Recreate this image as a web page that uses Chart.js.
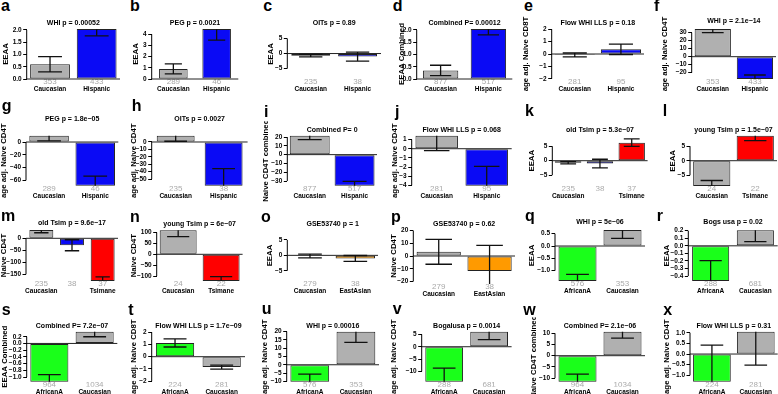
<!DOCTYPE html>
<html>
<head>
<meta charset="utf-8">
<script src="https://cdn.jsdelivr.net/npm/chart.js@4.4.1/dist/chart.umd.min.js"></script>
<style>
  html, body { margin: 0; padding: 0; background: #fff; }
  body { width: 778px; height: 394px; position: relative; overflow: hidden; font-family: "Liberation Sans", Arial, sans-serif; }
  canvas { position: absolute; }
  .tag { position: absolute; font-weight: bold; font-size: 16px; line-height: 16px; color: #000; }
</style>
</head>
<body>
<script>
// ---- data, one entry per panel a..x ----
const panelLetters = "abcdefghijklmnopqrstuvwx".split("");

const panelTitles = [
  "WHI p = 0.00052", "PEG p = 0.0021", "OITs p = 0.89", "Combined P= 0.00012", "Flow WHI LLS p = 0.18", "WHI p = 2.1e\u221214",
  "PEG p = 1.8e\u221205", "OITs p = 0.0027", "Combined P= 0", "Flow WHI LLS p = 0.068", "old Tsim p = 5.3e\u221207", "young Tsim p = 1.5e\u221207",
  "old Tsim p = 9.6e\u221217", "young Tsim p = 6e\u221207", "GSE53740 p = 1", "GSE53740 p = 0.62", "WHI p = 5e\u221206", "Bogs usa p = 0.02",
  "Combined P= 7.2e\u221207", "Flow WHI LLS p = 1.7e\u221209", "WHI p = 0.00016", "Bogalusa p = 0.0014", "Combined P= 2.1e\u221206", "Flow WHI LLS p = 0.31",
];

const panelYLabels = [
  "EEAA", "EEAA", "EEAA", "EEAA Combined", "age adj. Naive CD8T", "age adj. Naive CD4T",
  "age adj. Naive CD4T", "age adj. Naive CD4T", "Naive CD4T combined", "age adj. Naive CD4T", "EEAA", "EEAA",
  "Naive CD4T", "Naive CD4T", "EEAA", "Naive CD4T", "EEAA", "EEAA",
  "EEAA Combined", "age adj. Naive CD8T", "age adj. Naive CD4T", "age adj. Naive CD4T", "Naive CD4T combined", "age adj. Naive CD4T",
];

const CH = ["Caucasian", "Hispanic"];
const CT = ["Caucasian", "Tsimane"];
const CHT = ["Caucasian", "Hispanic", "Tsimane"];
const CE = ["Caucasian", "EastAsian"];
const AC = ["AfricanA", "Caucasian"];
const panelCategories = [CH, CH, CH, CH, CH, CH, CH, CH, CH, CH, CHT, CT, CHT, CT, CE, CE, AC, AC, AC, AC, AC, AC, AC, AC];

const panelCounts = [
  [353, 433], [289, 46], [235, 38], [877, 517], [281, 95], [353, 433],
  [289, 46], [235, 38], [877, 517], [281, 95], [235, 38, 37], [24, 22],
  [235, 38, 37], [24, 22], [279, 38], [279, 38], [576, 353], [288, 681],
  [964, 1034], [224, 281], [576, 353], [288, 681], [964, 1034], [224, 281],
];

const panelMeans = [
  [0.6, 2.04], [0.9, 4.47], [-0.7, -1.0], [0.35, 2.04], [-0.08, 0.38], [34.6, -27.9],
  [9.9, -68.4], [8.5, -59], [21.5, -35.3], [1.42, -4.04], [-0.7, -1.0, 6.2], [-8.7, 8.6],
  [34.6, -29, -178], [110.6, -123], [-0.2, -1.0], [3.3, -11.7], [-1.42, 0.65], [-0.465, 0.205],
  [-1.14, 0.35], [1.12, -0.85], [-10.2, 19.9], [-14.2, 6.1], [-11.6, 10.7], [-1.3, 1.05],
];

const panelSE = [
  [0.31, 0.28], [0.45, 1.0], [0.4, 1.5], [0.21, 0.24], [0.16, 0.42], [4.6, 5],
  [8, 15], [7.5, 23], [4.5, 5], [1.64, 2.1], [0.4, 1.5, 1.3], [1.9, 1.7],
  [11.5, 23, 17], [29, 20], [0.6, 0.95], [9.75, 20], [0.27, 0.34], [0.27, 0.15],
  [0.21, 0.15], [0.33, 0.17], [4.6, 6.4], [5.5, 3.2], [3.4, 2.9], [1.72, 1.57],
];

const panelYMin = [0, 0, -8.4, 0, -2.02, -27.9, -68.4, -59, -35.3, -4.04, -8.6, -8.7,
  -178, -123, -8.3, -21.9, -1.42, -0.465, -1.14, -2.04, -10.2, -14.2, -11.6, -1.3];
const panelYMax = [2.04, 4.47, 8.1, 2.04, 2.02, 34.6, 9.9, 8.5, 21.5, 1.42, 8.6, 8.6,
  34.6, 110.6, 8.2, 21.9, 0.65, 0.205, 0.35, 2.04, 19.9, 6.1, 10.7, 1.05];

const panelTicks = [
  [0, 0.5, 1, 1.5, 2], [0, 1, 2, 3, 4], [-5, 0, 5], [0, 0.5, 1, 1.5, 2], [-2, -1, 0, 1, 2], [-20, -10, 0, 10, 20, 30],
  [-60, -40, -20, 0], [-50, -40, -30, -20, -10, 0], [-30, -20, -10, 0, 10, 20], [-4, -3, -2, -1, 0, 1], [-5, 0, 5], [-5, 0, 5],
  [-150, -100, -50, 0], [-100, -50, 0, 50, 100], [-5, 0, 5], [-20, -10, 0, 10, 20], [-1, -0.5, 0, 0.5], [-0.4, -0.3, -0.2, -0.1, 0, 0.1, 0.2],
  [-1, -0.8, -0.6, -0.4, -0.2, 0, 0.2], [-2, -1, 0, 1, 2], [-10, -5, 0, 5, 10, 15, 20], [-10, -5, 0, 5], [-10, -5, 0, 5, 10], [-1, -0.5, 0, 0.5, 1],
];

// ---- layout (page pixels) ----
// plot region [left, right, top, bottom]
const plotBoxes = [
  [26.7, 120, 29, 79], [151.7, 238.3, 29, 79], [287.3, 381, 29, 79], [416.7, 512.3, 29, 79], [551.7, 644, 29, 79], [691.7, 776, 29, 79],
  [26, 118.3, 135.7, 185.7], [151.7, 247.6, 135.7, 185.7], [287.3, 377, 135.7, 185.7], [411.7, 511.7, 135.7, 185.7], [552.3, 647.6, 135.7, 185.7], [690, 777, 135.7, 186],
  [26, 118, 230, 281], [156.7, 242.6, 230.3, 281], [287.3, 378, 230, 281], [413.3, 515, 228, 284], [555, 645, 230, 281], [688.3, 777.7, 230.3, 281],
  [26.7, 117.3, 331.7, 381.7], [151.7, 245, 331.7, 381.7], [286.7, 379, 331.7, 381.7], [421.7, 511.6, 331.7, 381.7], [555, 645, 331.7, 381.7], [690, 777.7, 331.7, 381.7],
];
const titleY = [22.7, 22.7, 22.7, 22.7, 22.7, 21.5, 118.7, 118.7, 129.7, 129.7, 130.3, 130.3,
  222.7, 224.3, 224.3, 224.3, 222, 222, 325.7, 325.7, 325.7, 325.7, 325.7, 325.7];
const yLabelX = [6, 135.5, 270.5, 401.7, 526, 664.7, 4, 133.7, 266.3, 395.3, 532, 672.7,
  3.7, 133.7, 270.3, 393.7, 532, 667, 4.7, 133.7, 265.3, 393.7, 533.7, 667];
const letterPos = [
  [1, 11.7], [130, 11.7], [263.3, 11.7], [392.7, 11.7], [524, 11.7], [654, 11.7],
  [1.7, 111.3], [131.7, 111.3], [264, 117.3], [395, 117.3], [525, 116.3], [662.7, 116.3],
  [1, 221], [130, 222.7], [261, 222], [391, 222], [525, 221], [656.7, 221],
  [1.7, 315.7], [128.3, 315.7], [261.7, 314.7], [392.7, 314.7], [523.3, 315.7], [663.3, 315.7],
];
const barPct = [0.853, 0.66, 0.83, 0.74, 0.87, 0.86, 0.856, 0.79, 0.89, 0.85, 0.83, 0.855,
  0.78, 0.86, 0.87, 0.87, 0.845, 0.83, 0.84, 0.82, 0.84, 0.84, 0.845, 0.86];

const catColors = { Caucasian: "#b0b0b0", Hispanic: "#0a0af5", Tsimane: "#ff0000", AfricanA: "#1aff1a", EastAsian: "#ff9a00" };

const FONT = '"Liberation Sans", Arial, sans-serif';
const TITLE_SIZE = 7, YLAB_SIZE = 7.8;
const LH_TITLE = TITLE_SIZE * 1.2, LH_YLAB = YLAB_SIZE * 1.2;

Chart.defaults.font.family = FONT;
Chart.defaults.color = "#000";
Chart.defaults.animation = false;

function fmtTick(v, ticks) {
  const dec = ticks.some(t => !Number.isInteger(t)) ? 1 : 0;
  return Number(v).toFixed(dec).replace("-", "\u2212");
}

// zero line, R-style axis line (first to last tick) and error bars
const rExtras = {
  id: "rExtras",
  afterDatasetsDraw(chart, args, opts) {
    const i = opts.panel;
    const { ctx, chartArea: a } = chart;
    const y = chart.scales.y;
    ctx.save();
    ctx.strokeStyle = "#222";
    ctx.lineWidth = 1;
    const zy = y.getPixelForValue(0);
    ctx.beginPath();
    ctx.moveTo(a.left, zy);
    ctx.lineTo(a.right, zy);
    ctx.stroke();

    const t = panelTicks[i];
    ctx.strokeStyle = "#000";
    ctx.beginPath();
    ctx.moveTo(a.left, y.getPixelForValue(Math.min(...t)));
    ctx.lineTo(a.left, y.getPixelForValue(Math.max(...t)));
    ctx.stroke();

    ctx.beginPath();
    ctx.rect(a.left, a.top, a.right - a.left, a.bottom - a.top);
    ctx.clip();
    ctx.lineWidth = 1.3;
    ctx.strokeStyle = "#111";
    chart.getDatasetMeta(0).data.forEach((bar, k) => {
      const m = panelMeans[i][k], se = panelSE[i][k];
      const lo = y.getPixelForValue(m - se), hi = y.getPixelForValue(m + se);
      const half = bar.width * 0.3;
      ctx.beginPath();
      ctx.moveTo(bar.x, lo); ctx.lineTo(bar.x, hi);
      ctx.moveTo(bar.x - half, lo); ctx.lineTo(bar.x + half, lo);
      ctx.moveTo(bar.x - half, hi); ctx.lineTo(bar.x + half, hi);
      ctx.stroke();
    });
    ctx.restore();
  },
};

panelLetters.forEach((letter, i) => {
  const [x0, x1, y0, y1] = plotBoxes[i];
  const cl = Math.floor(yLabelX[i] - 6);
  const ct = Math.floor(titleY[i] - 8);
  const cw = Math.ceil(x1 + 3 - cl);
  const ch = Math.ceil(y1 + 16 - ct);

  const cv = document.createElement("canvas");
  cv.width = cw; cv.height = ch;
  cv.style.left = cl + "px"; cv.style.top = ct + "px";
  cv.style.width = cw + "px"; cv.style.height = ch + "px";
  document.body.appendChild(cv);

  const padLeft = yLabelX[i] - cl - LH_YLAB / 2;
  const padTop = titleY[i] - ct - LH_TITLE / 2;
  const cats = panelCategories[i];
  const ticks = panelTicks[i];

  new Chart(cv, {
    type: "bar",
    data: {
      labels: cats,
      datasets: [{
        data: panelMeans[i],
        backgroundColor: cats.map(c => catColors[c]),
        borderColor: "#222",
        borderWidth: 1,
        borderSkipped: false,
        barPercentage: barPct[i],
        categoryPercentage: 1,
        clip: 1,
      }],
    },
    options: {
      responsive: false,
      devicePixelRatio: 1,
      events: [],
      layout: { padding: { left: padLeft, top: padTop, right: cl + cw - x1, bottom: 0 } },
      plugins: {
        legend: { display: false },
        tooltip: { enabled: false },
        title: {
          display: true,
          text: panelTitles[i],
          fullSize: false,
          color: "#000",
          font: { size: TITLE_SIZE, weight: "bold" },
          padding: { top: 0, bottom: y0 - titleY[i] - LH_TITLE / 2 },
        },
        rExtras: { panel: i },
      },
      scales: {
        x: {
          type: "category",
          position: "bottom",
          weight: 0,
          offset: true,
          grid: { display: false, drawTicks: false },
          border: { display: false },
          ticks: {
            autoSkip: false, maxRotation: 0, padding: 2.7 - 4,
            color: "#a8a8a8", font: { size: 8, lineHeight: 1 },
            callback: (v, k) => String(panelCounts[i][k]),
          },
          afterFit: s => { s.height = 5; },
        },
        x2: {
          type: "category",
          labels: cats,
          position: "bottom",
          weight: 1,
          offset: true,
          grid: { display: false, drawTicks: false },
          border: { display: false },
          ticks: {
            autoSkip: false, maxRotation: 0, padding: 10.5 - 5 - 3.25,
            color: "#000", font: { size: 6.5, weight: "bold", lineHeight: 1 },
            // R drops the middle name when three names collide
            callback: (v, k) => (cats.length > 2 && k === 1 ? "" : cats[k]),
          },
          afterFit: s => { s.height = ct + ch - y1 - 5; },
        },
        y: {
          type: "linear",
          position: "left",
          min: panelYMin[i],
          max: panelYMax[i],
          afterBuildTicks: s => { s.ticks = ticks.map(v => ({ value: v })); },
          afterFit: s => { s.width = x0 - cl - padLeft; },
          grid: { display: true, drawOnChartArea: false, drawTicks: true, tickLength: 3.5, color: "#000", lineWidth: 1 },
          border: { display: false },
          ticks: {
            autoSkip: false, padding: 1.5, color: "#000",
            font: { size: 6.5, weight: "bold" },
            callback: v => fmtTick(v, ticks),
          },
          title: { display: true, text: panelYLabels[i], padding: 0, color: "#000", font: { size: YLAB_SIZE, weight: "bold" } },
        },
      },
    },
    plugins: [rExtras],
  });

  const tag = document.createElement("div");
  tag.className = "tag";
  tag.textContent = letter;
  tag.style.left = letterPos[i][0] + "px";
  tag.style.top = (letterPos[i][1] - 13.5) + "px";
  document.body.appendChild(tag);
});
</script>
</body>
</html>
